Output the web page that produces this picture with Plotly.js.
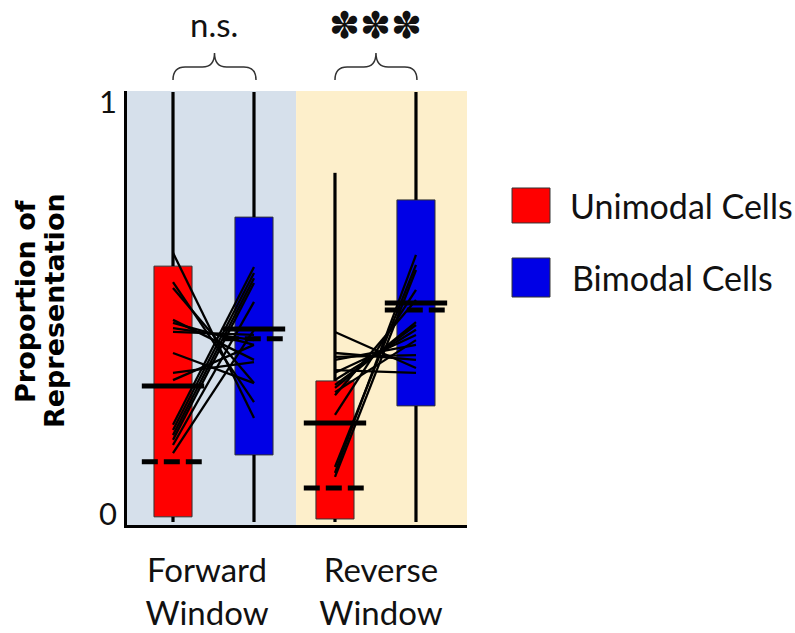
<!DOCTYPE html>
<html>
<head>
<meta charset="utf-8">
<script src="https://cdn.plot.ly/plotly-3.0.1.min.js"></script>
<style>
  html, body { margin: 0; padding: 0; background: #ffffff; }
  #chart { width: 795px; height: 633px; }
</style>
</head>
<body>
<div id="chart"></div>
<script>
// ---- data ----
const windowLabels = ['Forward<br>Window', 'Reverse<br>Window'];
const cellTypes = ['Unimodal Cells', 'Bimodal Cells'];
const significance = ['n.s.', '\u273D\u273D\u273D'];
const yTickVals = [0, 1];
const yTickText = ['0', '1'];

// box summaries, one entry per window (Forward, Reverse)
const uniMin = [0, 0];
const uniQ1 = [0.012, 0.007];
const uniQ3 = [0.595, 0.328];
const uniMax = [1, 0.812];
const uniMedian = [0.316, 0.230];
const uniMean = [0.140, 0.079];

const biMin = [0, 0];
const biQ1 = [0.156, 0.270];
const biQ3 = [0.709, 0.749];
const biMax = [1, 1];
const biMedian = [0.449, 0.509];
const biMean = [0.426, 0.493];

// paired proportions (unimodal -> bimodal) for each window
const fwdUni = [0.626, 0.558, 0.544, 0.470, 0.463, 0.451, 0.442, 0.393, 0.347, 0.330, 0.226, 0.214, 0.202, 0.191, 0.179, 0.160];
const fwdBi  = [0.242, 0.279, 0.323, 0.377, 0.412, 0.423, 0.435, 0.323, 0.372, 0.412, 0.593, 0.579, 0.567, 0.556, 0.512, 0.447];
const revUni = [0.442, 0.393, 0.384, 0.377, 0.353, 0.347, 0.330, 0.319, 0.312, 0.302, 0.295, 0.249, 0.128, 0.114, 0.105];
const revBi  = [0.358, 0.377, 0.388, 0.412, 0.347, 0.435, 0.447, 0.458, 0.465, 0.423, 0.516, 0.540, 0.598, 0.621, 0.586];

// ---- layout helpers ----
const uniX = [1, 3];
const biX = [2, 4];
const groupX = [1.42, 3.568];
const RED = '#ff0000';
const BLUE = 'rgb(0,0,230)';
const FONT = 'Lato, "Open Sans", sans-serif';
const boxW = 0.47;

function boxTrace(xs, q1, q3, color, name) {
  return {
    type: 'bar', name: name, x: xs, base: q1,
    y: q3.map((v, i) => v - q1[i]),
    width: boxW,
    marker: { color: color, line: { color: '#333333', width: 1 } },
    showlegend: false, hoverinfo: 'skip'
  };
}

function whiskerTrace(xs, lo, q1, q3, hi) {
  const x = [], y = [];
  xs.forEach((xv, i) => {
    x.push(xv, xv, null, xv, xv, null);
    y.push(q3[i], hi[i], null, lo[i], q1[i], null);
  });
  return { type: 'scatter', mode: 'lines', x: x, y: y,
    line: { color: '#000000', width: 3.2 }, showlegend: false, hoverinfo: 'skip' };
}

function pairTrace(x0, x1, a, b) {
  const x = [], y = [];
  a.forEach((v, i) => { x.push(x0, x1, null); y.push(v, b[i], null); });
  return { type: 'scatter', mode: 'lines', x: x, y: y,
    line: { color: '#000000', width: 2.3 }, showlegend: false, hoverinfo: 'skip' };
}

function statTrace(xs, vals, dashed) {
  const x = [], y = [];
  xs.forEach((xv, i) => {
    x.push(xv - 0.385, xv + (dashed ? 0.355 : 0.385), null);
    y.push(vals[i], vals[i], null);
  });
  return { type: 'scatter', mode: 'lines', x: x, y: y,
    line: { color: '#000000', width: 5, dash: dashed ? '16px,6px' : 'solid' },
    showlegend: false, hoverinfo: 'skip' };
}

const traces = [
  boxTrace(uniX, uniQ1, uniQ3, RED, cellTypes[0]),
  boxTrace(biX, biQ1, biQ3, BLUE, cellTypes[1]),
  whiskerTrace(uniX, uniMin, uniQ1, uniQ3, uniMax),
  whiskerTrace(biX, biMin, biQ1, biQ3, biMax),
  pairTrace(uniX[0], biX[0], fwdUni, fwdBi),
  pairTrace(uniX[1], biX[1], revUni, revBi),
  statTrace(uniX, uniMedian, false),
  statTrace(biX, biMedian, false),
  statTrace(uniX, uniMean, true),
  statTrace(biX, biMean, true)
];

// curly brace opening downward, spanning x a..b above the plot
function bracePath(a, b) {
  const m = (a + b) / 2, d = 0.15;
  const y0 = 1.0253, y1 = 1.0553, y2 = 1.0876;
  return `M ${a},${y0} Q ${a},${y1} ${a + d},${y1} L ${m - d},${y1} Q ${m},${y1} ${m},${y2} ` +
         `Q ${m},${y1} ${m + d},${y1} L ${b - d},${y1} Q ${b},${y1} ${b},${y0}`;
}

const shapes = [
  { type: 'rect', xref: 'x', yref: 'paper', x0: 0.432, x1: 2.52, y0: 0, y1: 1,
    fillcolor: '#d6e0eb', line: { width: 0 }, layer: 'below' },
  { type: 'rect', xref: 'x', yref: 'paper', x0: 2.52, x1: 4.63, y0: 0, y1: 1,
    fillcolor: '#fdefcb', line: { width: 0 }, layer: 'below' },
  { type: 'path', xref: 'x', yref: 'paper', path: bracePath(uniX[0], biX[0] + 0.025),
    line: { color: '#333333', width: 1.5 } },
  { type: 'path', xref: 'x', yref: 'paper', path: bracePath(uniX[1], biX[1] + 0.012),
    line: { color: '#333333', width: 1.5 } },
  // legend swatches
  { type: 'rect', xref: 'paper', yref: 'paper', x0: 1.1324, x1: 1.2441, y0: 0.6959, y1: 0.7765,
    fillcolor: RED, line: { color: '#333333', width: 1 } },
  { type: 'rect', xref: 'paper', yref: 'paper', x0: 1.1324, x1: 1.2441, y0: 0.5253, y1: 0.6152,
    fillcolor: BLUE, line: { color: '#333333', width: 1 } }
];

const annotations = [
  { text: significance[0], xref: 'x', yref: 'paper', x: (uniX[0] + biX[0]) / 2, y: 1.154,
    xanchor: 'center', yanchor: 'middle',
    showarrow: false, font: { family: FONT, size: 33, color: '#111111' } },
  { text: significance[1], xref: 'x', yref: 'paper', x: (uniX[1] + biX[1]) / 2, y: 1.152,
    xanchor: 'center', yanchor: 'middle',
    showarrow: false, font: { family: 'DejaVu Sans, sans-serif', size: 37, color: '#111111' } },
  { text: cellTypes[0], xref: 'paper', yref: 'paper', x: 1.297, y: 0.737, xanchor: 'left', yanchor: 'middle',
    showarrow: false, font: { family: FONT, size: 34, color: '#111111' } },
  { text: cellTypes[1], xref: 'paper', yref: 'paper', x: 1.303, y: 0.571, xanchor: 'left', yanchor: 'middle',
    showarrow: false, font: { family: FONT, size: 34, color: '#111111' } },
  { text: 'Proportion of', xref: 'paper', yref: 'paper', x: -0.297, y: 0.514, textangle: -90,
    xanchor: 'center', yanchor: 'middle',
    showarrow: false, font: { family: 'DejaVu Sans, sans-serif', size: 27, weight: 'bold', color: '#000000' } },
  { text: 'Representation', xref: 'paper', yref: 'paper', x: -0.215, y: 0.495, textangle: -90,
    xanchor: 'center', yanchor: 'middle',
    showarrow: false, font: { family: 'DejaVu Sans, sans-serif', size: 27, weight: 'bold', color: '#000000' } }
];
yTickVals.forEach((v, i) => {
  annotations.push({ text: yTickText[i], xref: 'paper', yref: 'y', x: 0, y: v,
    xanchor: 'right', yanchor: 'middle', xshift: -8, yshift: v === 0 ? 9 : -9, showarrow: false,
    font: { family: FONT, size: 31, color: '#111111' } });
});

const layout = {
  width: 795, height: 633,
  margin: { l: 127, r: 328, t: 91, b: 108 },
  paper_bgcolor: '#ffffff', plot_bgcolor: 'rgba(0,0,0,0)',
  showlegend: false, hovermode: false, barmode: 'overlay',
  xaxis: {
    range: [0.432, 4.63], showgrid: false, zeroline: false,
    showline: true, linecolor: '#000000', linewidth: 3, ticks: '',
    tickvals: groupX, ticktext: windowLabels, ticklabelstandoff: 14,
    tickfont: { family: FONT, size: 33, color: '#111111' }, fixedrange: true
  },
  yaxis: {
    range: [-0.007, 1.0023], showgrid: false, zeroline: false,
    showline: true, linecolor: '#000000', linewidth: 3, ticks: '',
    showticklabels: false, fixedrange: true
  },
  shapes: shapes,
  annotations: annotations
};

Plotly.newPlot('chart', traces, layout, { displayModeBar: false, staticPlot: true });
</script>
</body>
</html>
